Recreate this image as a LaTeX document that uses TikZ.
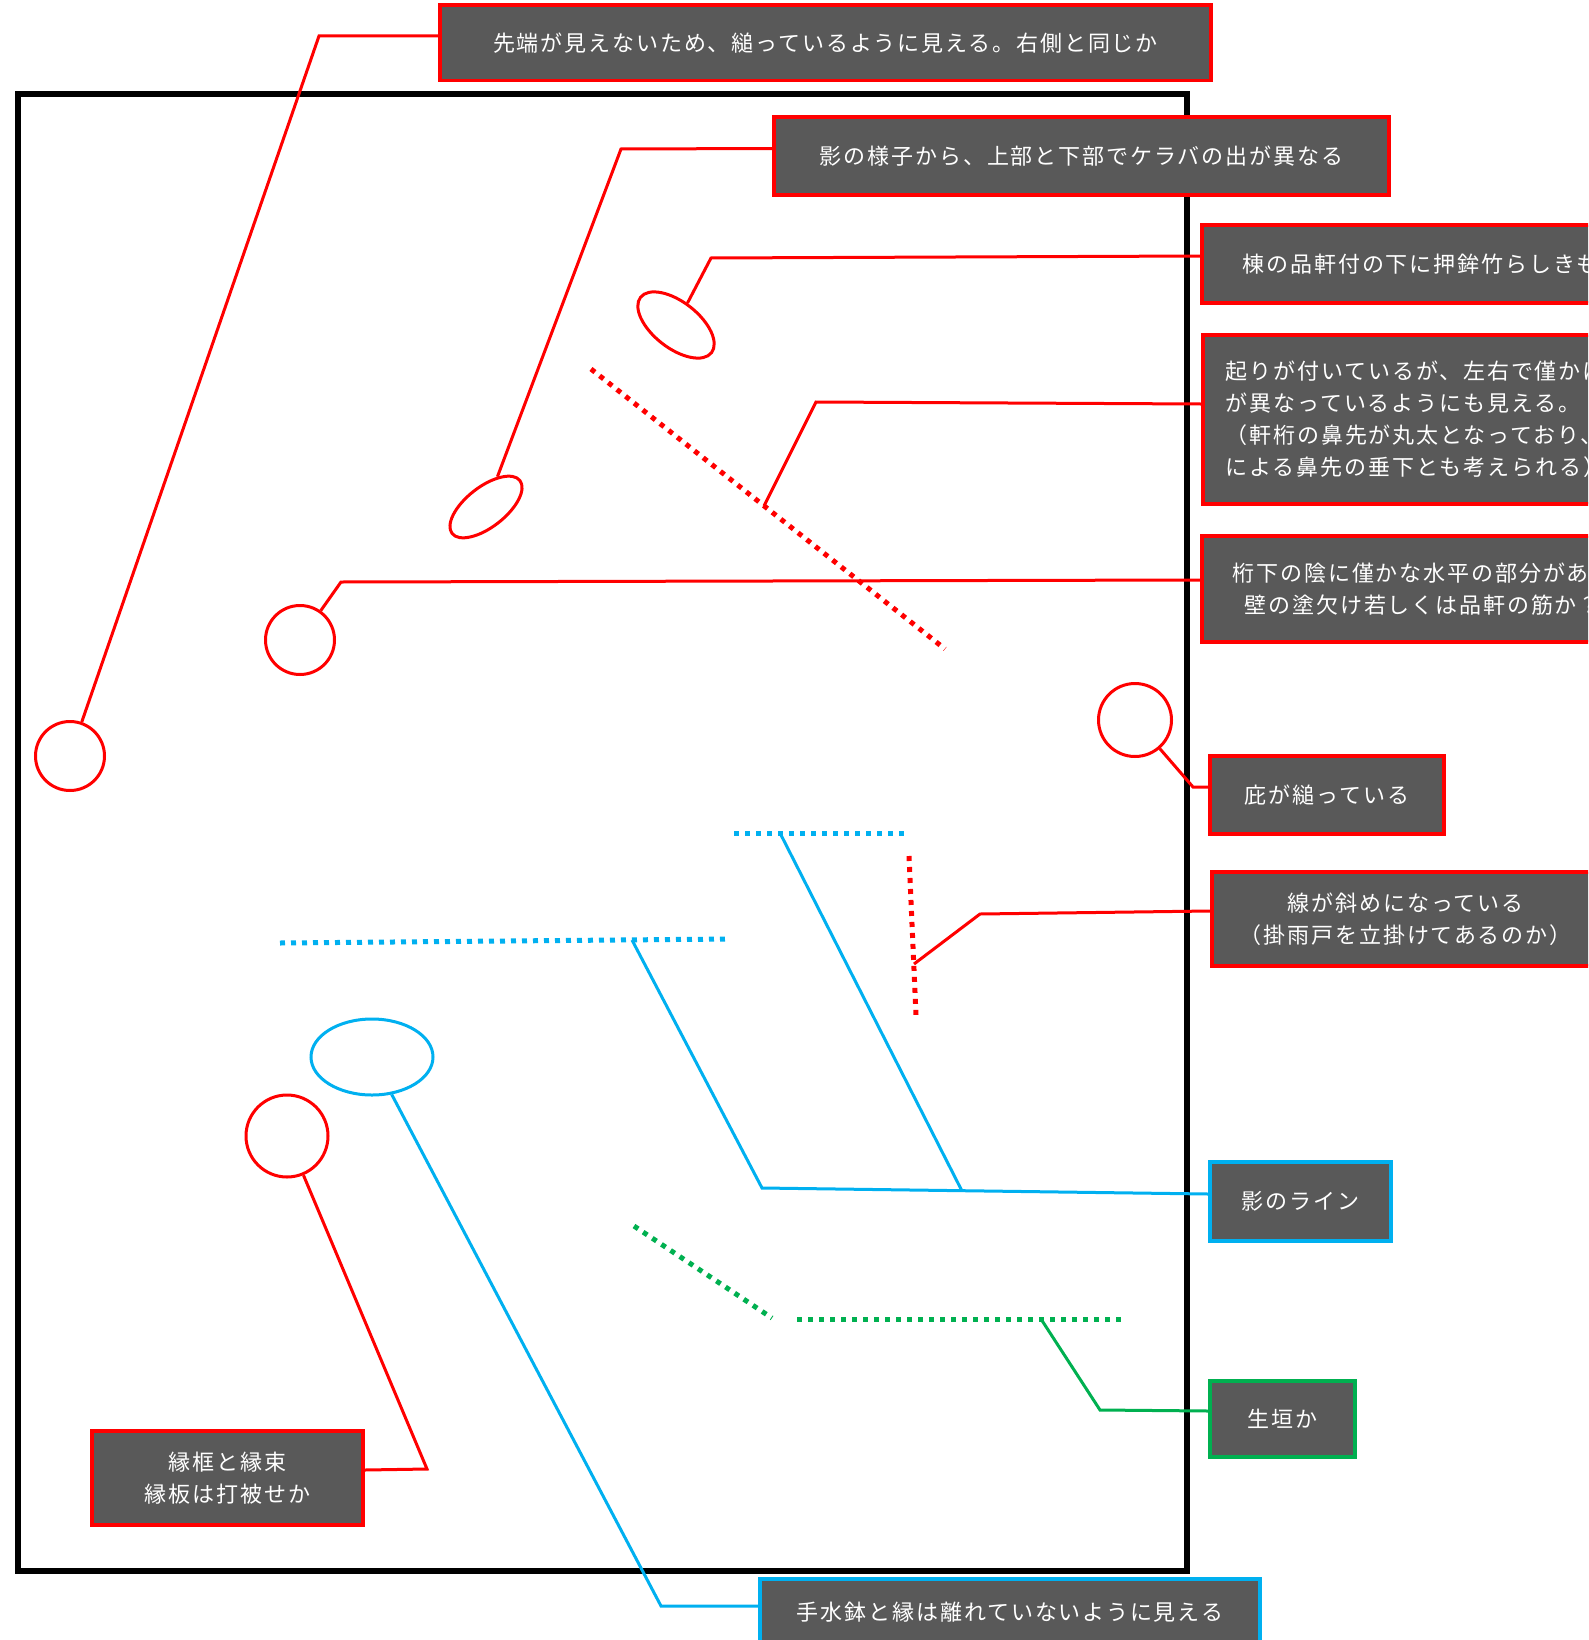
\documentclass[tikz,border=0pt]{standalone}
\usepackage{fontspec}
\newfontfamily\jp[LetterSpace=8.5]{Noto Sans CJK JP}
\usetikzlibrary{shapes.geometric,calc}
\definecolor{boxgray}{HTML}{595959}
\definecolor{myred}{HTML}{FF0000}
\definecolor{myblue}{HTML}{00B0F0}
\definecolor{mygreen}{HTML}{00B050}
\begin{document}
\begin{tikzpicture}[x=1pt,y=-1pt,
  box/.style={draw=myred, fill=boxgray, line width=3.5pt, text=white,
    font=\jp\fontsize{22}{32}\selectfont, inner sep=0pt},
  bluebox/.style={box, draw=myblue},
  greenbox/.style={box, draw=mygreen},
  rline/.style={draw=myred, line width=3pt, line join=miter},
  bline/.style={draw=myblue, line width=3pt, line join=miter},
  gline/.style={draw=mygreen, line width=3pt, line join=miter},
  rcirc/.style={circle, draw=myred, line width=3pt, inner sep=0pt},
  rell/.style={ellipse, draw=myred, line width=3pt, inner sep=0pt},
  bell/.style={ellipse, draw=myblue, line width=3pt, inner sep=0pt},
  dots/.style={line width=5pt, dash pattern=on 5pt off 6pt}
]
\useasboundingbox (0,0) rectangle (1588,1640);
\clip (0,0) rectangle (1588,1640);
\fill[white] (0,0) rectangle (1588,1640);

% frame
\draw[line width=6pt] (18,94) rectangle (1187,1571);

% marks
\node[rcirc, minimum size=69pt] (c1) at (70,756) {};
\node[rcirc, minimum size=69pt] (c5) at (300,640) {};
\node[rcirc, minimum size=73pt] (c6) at (1135,720) {};
\node[rcirc, minimum size=82pt] (c10) at (287,1136) {};
\node[rell, minimum width=86pt, minimum height=40pt, rotate=38] (e2) at (486,507) {};
\node[rell, minimum width=90pt, minimum height=46pt, rotate=-38] (e3) at (676,325) {};
\node[bell, minimum width=122pt, minimum height=76pt] (eb) at (372,1057) {};

% dotted lines
\draw[dots, myred] (591,369) -- (945,649);
\draw[dots, myred] (909,856) -- (916,1015);
\draw[dots, myblue] (734,833) -- (906,833);
\draw[dots, myblue] (280,943) -- (730,939);
\draw[dots, mygreen] (634,1226) -- (772,1318);
\draw[dots, mygreen] (797,1319) -- (1122,1319);

\coordinate (p4) at (764,506);
\coordinate (p7) at (914,964);
\coordinate (p8a) at (632,940);
\coordinate (p8b) at (780,833);
\coordinate (j8) at (962,1191);
\coordinate (p11) at (1041,1319);

% boxes
\node[box, minimum width=771pt, minimum height=75.5pt] (b1) at (825.5,42.8)
  {先端が見えないため、縋っているように見える。右側と同じか};
\node[box, minimum width=615pt, minimum height=77.6pt] (b2) at (1081.5,156)
  {影の様子から、上部と下部でケラバの出が異なる};
\node[box, anchor=west, minimum height=78pt, inner xsep=41pt, text width=420pt, align=left] (b3) at (1200,264)
  {棟の品軒付の下に押鉾竹らしきも};
\node[box, anchor=west, minimum height=169pt, inner xsep=23pt, text width=450pt, align=left] (b4) at (1201,419.5)
  {起りが付いているが、左右で僅かに\\が異なっているようにも見える。\\（軒桁の鼻先が丸太となっており、\\による鼻先の垂下とも考えられる）};
\node[box, anchor=west, minimum height=106pt, inner xsep=23pt, text width=396pt, align=center] (b5) at (1200,589)
  {桁下の陰に僅かな水平の部分がある\\壁の塗欠け若しくは品軒の筋か？};
\node[box, minimum width=234pt, minimum height=78pt] (b6) at (1327,795) {庇が縋っている};
\node[box, anchor=west, minimum height=94pt, text width=388pt, align=center] (b7) at (1210,919)
  {線が斜めになっている\\（掛雨戸を立掛けてあるのか）};
\node[bluebox, minimum width=181pt, minimum height=79pt] (b8) at (1300.5,1201.5) {影のライン};
\node[bluebox, minimum width=500pt, minimum height=66pt] (b9) at (1010,1612)
  {手水鉢と縁は離れていないように見える};
\node[box, minimum width=271pt, minimum height=94pt, align=center] (b10) at (227.5,1478)
  {縁框と縁束\\縁板は打被せか};
\node[greenbox, minimum width=145pt, minimum height=76pt] (b11) at (1282.5,1419) {生垣か};

% connectors
\draw[rline] ([yshift=7pt]b1.west) -- (319,36) -- (c1);
\draw[rline] ([yshift=7.5pt]b2.west) -- (621,149) -- (e2);
\draw[rline] ([yshift=8pt]b3.west) -- (711,258) -- (e3);
\draw[rline] ([yshift=15.5pt]b4.west) -- (816,402) -- (p4);
\draw[rline] ([yshift=9pt]b5.west) -- (341,582) -- (c5);
\draw[rline] ([yshift=8pt]b6.west) -- (1193,787) -- (c6);
\draw[rline] ([yshift=8pt]b7.west) -- (980,914) -- (p7);
\draw[bline] ([yshift=7.5pt]b8.west) -- (762,1188) -- (p8a);
\draw[bline] (j8) -- (p8b);
\draw[bline] ([yshift=6pt]b9.west) -- (661,1606) -- (eb);
\draw[rline] ([yshift=8pt]b10.east) -- (427,1469) -- (c10);
\draw[gline] ([yshift=8pt]b11.west) -- (1100,1410) -- (p11);
\end{tikzpicture}
\end{document}
